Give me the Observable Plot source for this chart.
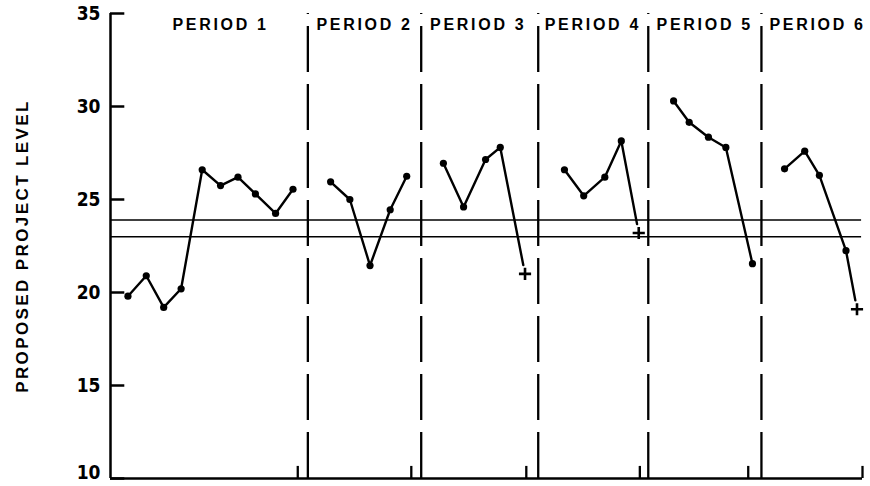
<!DOCTYPE html>
<html><head><meta charset="utf-8">
<script src="https://cdn.jsdelivr.net/npm/d3@7"></script>
<script src="https://cdn.jsdelivr.net/npm/@observablehq/plot@0.6"></script>
<style>
body{margin:0;background:#fff;}
#chart svg{display:block;}
</style></head><body><div id="chart"></div>
<script>
// y-axis ticks
const yTicks = [10, 15, 20, 25, 30, 35];
// period names and their label positions (x units)
const periodNames = ["PERIOD 1", "PERIOD 2", "PERIOD 3", "PERIOD 4", "PERIOD 5", "PERIOD 6"];
const periodLabelX = [6.0, 13.85, 20.05, 26.3, 32.4, 38.55];
// dashed period dividers and small end-of-period ticks (x units)
const periodDividers = [10.76, 16.94, 23.32, 29.32, 35.49];
const periodEndTicks = [10.21, 16.4, 22.67, 28.86, 34.77, 41];
// horizontal reference levels
const referenceLevels = [23.9, 23.0];
const yTitle = "PROPOSED PROJECT LEVEL";

// series per period
const p1X = [0.95, 1.95, 2.9, 3.85, 5.0, 6.0, 6.95, 7.9, 9.0, 9.95];
const p1Y = [19.8, 20.9, 19.2, 20.2, 26.6, 25.75, 26.2, 25.3, 24.25, 25.55];
const p2X = [12.0, 13.05, 14.15, 15.25, 16.15];
const p2Y = [25.95, 25.0, 21.45, 24.45, 26.25];
const p3X = [18.15, 19.25, 20.45, 21.25];
const p3Y = [26.95, 24.6, 27.15, 27.8];
const p4X = [24.75, 25.8, 26.95, 27.85];
const p4Y = [26.6, 25.2, 26.2, 28.15];
const p5X = [30.7, 31.55, 32.6, 33.55, 35.0];
const p5Y = [30.3, 29.15, 28.35, 27.8, 21.55];
const p6X = [36.75, 37.85, 38.65, 40.1];
const p6Y = [26.65, 27.6, 26.3, 22.25];
// "+" end points (period index, x, y)
const crossPeriod = [2, 3, 5];
const crossX = [22.6, 28.8, 40.7];
const crossY = [21.0, 23.2, 19.1];

const seriesX = [p1X, p2X, p3X, p4X, p5X, p6X];
const seriesY = [p1Y, p2Y, p3Y, p4Y, p5Y, p6Y];
const points = [];
seriesX.forEach((xs, i) => xs.forEach((x, j) => points.push({period: periodNames[i], x, y: seriesY[i][j]})));
const crosses = crossX.map((x, k) => {
  const i = crossPeriod[k];
  const xs = seriesX[i], ys = seriesY[i];
  return {period: periodNames[i], x, y: crossY[k], x0: xs[xs.length - 1], y0: ys[ys.length - 1]};
});
const labels = periodNames.map((name, i) => ({name, x: periodLabelX[i]}));

const tickFont = "'Liberation Sans Narrow', 'DejaVu Sans Condensed', 'Liberation Sans', Arial, sans-serif";
const labelFont = "'Liberation Sans', Arial, sans-serif";

const chart = Plot.plot({
  width: 870, height: 486,
  marginLeft: 110, marginRight: 8, marginTop: 13, marginBottom: 8,
  style: {background: "#fff", color: "#000", fontFamily: labelFont},
  x: {domain: [0, 41], axis: null},
  y: {domain: [10, 35], axis: null},
  marks: [
    Plot.ruleY(referenceLevels, {y: d => d, x1: 0, x2: 40.95, stroke: "#000", strokeWidth: 1.5}),
    Plot.ruleX(periodDividers, {x: d => d, y1: 10, y2: 35, stroke: "#000", strokeWidth: 2.3, strokeDasharray: "46,12"}),
    Plot.ruleX(periodEndTicks, {x: d => d, y1: 10, y2: 10.65, stroke: "#000", strokeWidth: 2.3}),
    Plot.ruleX([0], {x: d => d, y1: 10, y2: 35, stroke: "#000", strokeWidth: 2.5}),
    Plot.ruleY([10], {y: d => d, x1: 0, x2: 41, stroke: "#000", strokeWidth: 2.5}),
    Plot.ruleY(yTicks, {y: d => d, x1: 0, x2: 0.78, stroke: "#000", strokeWidth: 2.5}),
    Plot.axisY(yTicks.filter(t => t > yTicks[0]), {tickSize: 0, tickPadding: 10, label: null, fontSize: 19, fontWeight: "bold", fontFamily: tickFont}),
    Plot.axisY(yTicks.slice(0, 1), {tickSize: 0, tickPadding: 10, label: null, dy: -6, fontSize: 19, fontWeight: "bold", fontFamily: tickFont}),
    Plot.line(points, {x: "x", y: "y", z: "period", stroke: "#000", strokeWidth: 2.4}),
    Plot.arrow(crosses, {x1: "x0", y1: "y0", x2: "x", y2: "y", headLength: 0, insetEnd: 9, stroke: "#000", strokeWidth: 2.4}),
    Plot.dot(points, {x: "x", y: "y", r: 3.6, fill: "#000"}),
    Plot.dot(crosses, {x: "x", y: "y", symbol: "plus", r: 4, stroke: "#000", strokeWidth: 2.6}),
    Plot.text(labels, {x: "x", y: 34.4, text: "name", fontSize: 16, fontWeight: "bold", fill: "#000"}),
    Plot.text([yTitle], {text: d => d, frameAnchor: "left", textAnchor: "middle", dx: -88, dy: 0, rotate: -90, fontSize: 17, fontWeight: "bold", fill: "#000"})
  ]
});
d3.select(chart).selectAll("text")
  .filter(function() { return periodNames.includes(this.textContent); })
  .style("letter-spacing", "2.7px");
d3.select(chart).selectAll("text")
  .filter(function() { return this.textContent === yTitle; })
  .style("letter-spacing", "2.4px");
document.getElementById("chart").appendChild(chart);
</script></body></html>
